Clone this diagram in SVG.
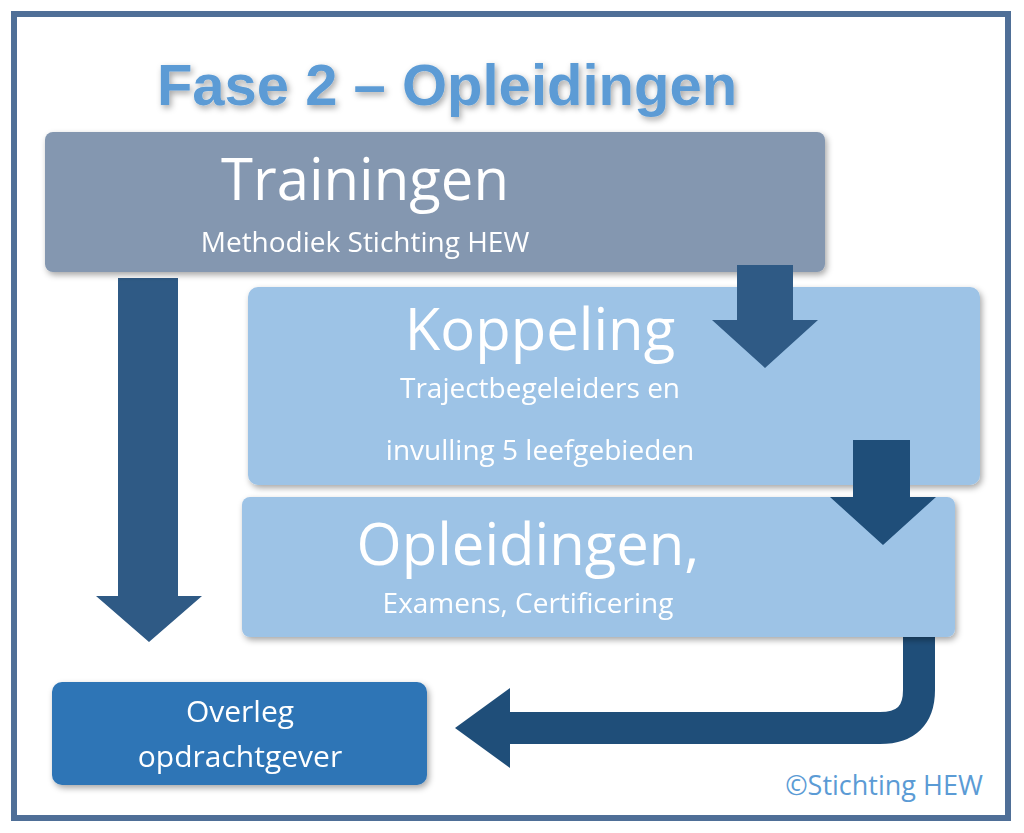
<svg xmlns="http://www.w3.org/2000/svg" width="1024" height="833" viewBox="0 0 1024 833">
<style>
.t{font-family:"Open Sans","Liberation Sans",sans-serif;fill:#fff;text-anchor:middle}
.big{font-size:58px}
.sm{font-size:28px}
.ar{fill:#2f5a85}
</style>
<defs>
<filter id="sh" x="-5%" y="-5%" width="110%" height="120%"><feDropShadow dx="2" dy="3" stdDeviation="3" flood-opacity="0.35"/></filter>
</defs>
<rect width="1024" height="833" fill="#fff"/>
<rect x="14" y="14" width="994" height="804" fill="none" stroke="#4f6f97" stroke-width="6"/>
<text x="447" y="105" font-family="Liberation Sans,sans-serif" font-weight="bold" font-size="58" fill="#5b9bd5" text-anchor="middle" filter="url(#sh)">Fase 2 – Opleidingen</text>
<g id="connectors">
<polygon class="ar" points="118,278 178,278 178,596 202,596 149,642 96,596 118,596"/>
<polygon class="ar" points="737,265 793,265 793,320 818,320 765,368 712,320 737,320"/>
<polygon fill="#1f4e79" points="853,440 910,440 910,497 936,497 883,545 830,497 853,497"/>
<path d="M919,628 V690 Q919,728 880,728 H505" fill="none" stroke="#1f4e79" stroke-width="32"/>
<polygon fill="#1f4e79" points="510,688 510,768 455,728"/>
</g>
<g id="n1" filter="url(#sh)">
<rect x="45" y="132" width="780" height="140" rx="8" fill="#8497b0"/>
<text class="t big" x="365" y="200">Trainingen</text>
<text class="t sm" x="365" y="252">Methodiek Stichting HEW</text>
</g>
<g id="n2" filter="url(#sh)">
<rect x="248" y="287" width="732" height="198" rx="10" fill="#9dc3e6"/>
<text class="t big" x="540" y="350">Koppeling</text>
<text class="t sm" x="540" y="398">Trajectbegeleiders en</text>
<text class="t sm" x="540" y="460">invulling 5 leefgebieden</text>
</g>
<g id="n3" filter="url(#sh)">
<rect x="242" y="497" width="713" height="140" rx="8" fill="#9dc3e6"/>
<text class="t big" x="528" y="565">Opleidingen,</text>
<text class="t sm" x="528" y="613">Examens, Certificering</text>
</g>
<polygon class="ar" points="737,265 793,265 793,320 818,320 765,368 712,320 737,320"/>
<polygon fill="#1f4e79" points="853,440 910,440 910,497 936,497 883,545 830,497 853,497"/>
<g id="n4" filter="url(#sh)">
<rect x="52" y="682" width="375" height="103" rx="10" fill="#2e75b6"/>
<text class="t" font-size="30" x="240" y="722">Overleg</text>
<text class="t" font-size="30" x="240" y="767">opdrachtgever</text>
</g>
<text x="884" y="795" font-family="Open Sans,Liberation Sans,sans-serif" font-size="27" fill="#5b9bd5" text-anchor="middle">©Stichting HEW</text>
</svg>
